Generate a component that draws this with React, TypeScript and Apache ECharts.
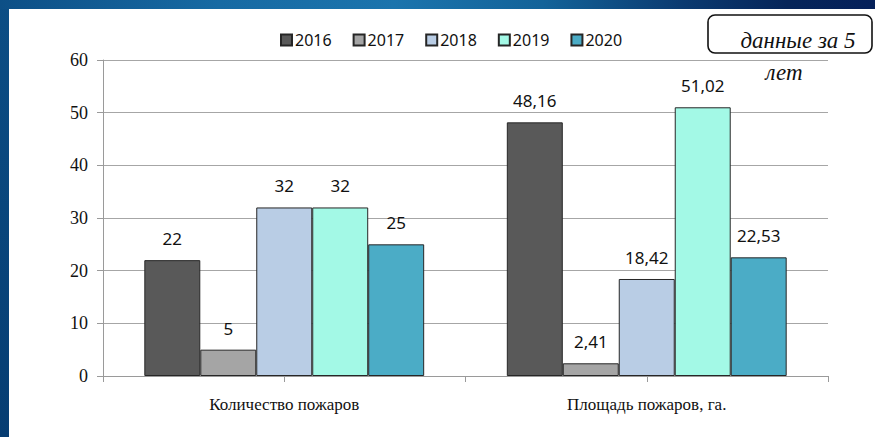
import React, { useEffect, useRef } from "react";
import * as echarts from "echarts";

const categories = ["Количество пожаров", "Площадь пожаров, га."];
const years = ["2016", "2017", "2018", "2019", "2020"];
const values2016 = [22, 48.16];
const values2017 = [5, 2.41];
const values2018 = [32, 18.42];
const values2019 = [32, 51.02];
const values2020 = [25, 22.53];
const yTicks = [0, 10, 20, 30, 40, 50, 60];
const seriesValues = [values2016, values2017, values2018, values2019, values2020];
const colors = ["#595959", "#a5a5a5", "#b9cde5", "#a3f9e6", "#4bacc6"];

const SERIF = "Liberation Serif";
const SANS = "Noto Sans";

export default function App() {
  const ref = useRef<HTMLDivElement>(null);
  useEffect(() => {
    if (!ref.current) return;
    const chart = echarts.init(ref.current, undefined, { renderer: "svg" });
    const fmt = (v: number) => String(v).replace(".", ",");
    chart.setOption({
      animation: false,
      backgroundColor: "#ffffff",
      legend: {
        data: years,
        top: 18,
        left: 266,
        icon: "rect",
        itemWidth: 11,
        itemHeight: 11,
        itemGap: 21,
        textStyle: { fontFamily: SANS, fontSize: 16, color: "#111", padding: [0, 0, 0, -2] },
      },
      grid: { left: 94, right: 47, top: 51, bottom: 61 },
      xAxis: [
        {
          type: "category",
          data: categories,
          axisLine: { lineStyle: { color: "#9a9a9a", width: 1 } },
          axisTick: { show: false },
          axisLabel: { fontFamily: SERIF, fontSize: 17, color: "#111", margin: 20 },
        },
        {
          type: "category",
          data: ["", "", "", ""],
          position: "bottom",
          axisLine: { show: false },
          axisTick: { show: true, length: 6, lineStyle: { color: "#9a9a9a" } },
          axisLabel: { show: false },
        },
      ],
      yAxis: {
        type: "value",
        min: 0,
        max: 60,
        interval: 10,
        axisLine: { show: true, lineStyle: { color: "#9a9a9a" } },
        axisTick: { show: true, length: 6, lineStyle: { color: "#9a9a9a" } },
        axisLabel: {
          fontFamily: SERIF,
          fontSize: 18,
          color: "#111",
          margin: 15,
          formatter: (v: number) => (yTicks.includes(v) ? String(v) : ""),
        },
        splitLine: { lineStyle: { color: "#a6a6a6", width: 1 } },
      },
      series: years.map((y, i) => ({
        name: y,
        type: "bar",
        xAxisIndex: 0,
        data: seriesValues[i],
        barGap: "0%",
        barCategoryGap: "22.8%",
        itemStyle: { color: colors[i], borderColor: "#262626", borderWidth: 1 },
        label: {
          show: true,
          position: "top",
          distance: 13,
          fontFamily: SANS,
          fontSize: 17,
          color: "#111",
          formatter: (p: any) => fmt(p.value),
        },
      })),
      graphic: [
        {
          type: "rect",
          shape: { x: 699, y: 6, width: 164, height: 38, r: 7 },
          style: { fill: "#ffffff", stroke: "#111", lineWidth: 1.6 },
          z: 10,
        },
        {
          type: "text",
          x: 789,
          y: 31,
          style: {
            text: "данные за 5",
            fontFamily: SERIF,
            fontStyle: "italic",
            fontSize: 23,
            fill: "#111",
            align: "center",
            verticalAlign: "middle",
          },
          z: 11,
        },
        {
          type: "text",
          x: 775,
          y: 63,
          style: {
            text: "лет",
            fontFamily: SERIF,
            fontStyle: "italic",
            fontSize: 23,
            fill: "#111",
            align: "center",
            verticalAlign: "middle",
          },
          z: 11,
        },
      ],
    });
    return () => chart.dispose();
  }, []);
  return (
    <div
      style={{
        position: "fixed",
        left: 0,
        top: 0,
        width: 875,
        height: 437,
        background: "linear-gradient(180deg, #0c4e85 0%, #063d72 100%)",
        overflow: "hidden",
      }}
    >
      <div
        style={{
          position: "absolute",
          left: 0,
          top: 0,
          width: 875,
          height: 9,
          background:
            "linear-gradient(90deg, #0d4f86 0%, #176aa3 25%, #1b74ad 45%, #136399 62%, #0b3a70 78%, #062559 90%, #05205a 100%)",
        }}
      />
      <div
        ref={ref}
        style={{ position: "absolute", left: 9, top: 9, width: 866, height: 428, background: "#fff" }}
      />
    </div>
  );
}
